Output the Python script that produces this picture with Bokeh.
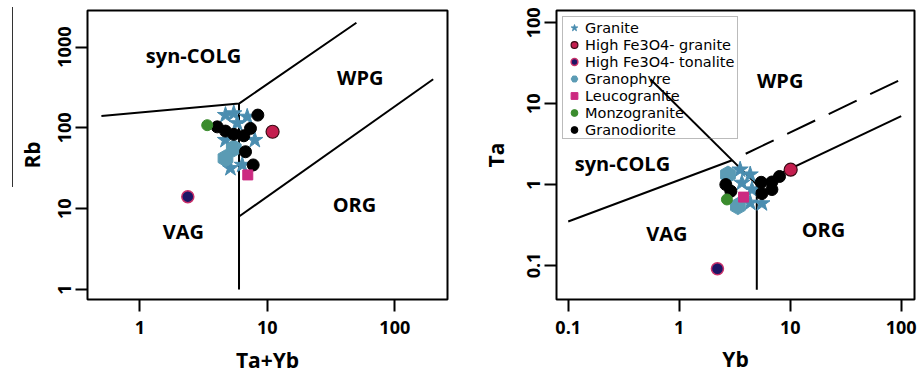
import math
from bokeh.plotting import figure
from bokeh.models import FixedTicker, Legend, LegendItem, Div
from bokeh.layouts import row
from bokeh.embed import file_html
from bokeh.resources import INLINE
from bokeh.core.properties import value

# ---------------- data: left diagram (Rb vs Ta+Yb) ----------------
L_xticks = [1, 10, 100]
L_xtick_labels = ["1", "10", "100"]
L_yticks = [1, 10, 100, 1000]
L_ytick_labels = ["1", "10", "100", "1000"]

L_granite_x = [4.70, 5.46, 6.96, 5.81, 4.70, 7.98, 6.36, 5.14]
L_granite_y = [144, 151, 137, 114, 70.7, 70.7, 34.8, 31.7]
L_granodiorite_x = [4.05, 4.70, 5.46, 6.54, 7.38, 8.43, 6.75, 7.75]
L_granodiorite_y = [103, 91.3, 83.2, 79.9, 98.6, 144, 50.7, 34.8]
L_granophyre_x = [5.46, 4.70]
L_granophyre_y = [55.9, 42.1]
L_leuco_x = [7.03]
L_leuco_y = [26.2]
L_monzo_x = [3.38]
L_monzo_y = [108]
L_hfgran_x = [11.0]
L_hfgran_y = [89.6]
L_hfton_x = [2.38]
L_hfton_y = [14.1]

# field boundaries (Pearce et al. 1984)
L_b1_x = [0.5, 6, 50]
L_b1_y = [140, 200, 2000]
L_b2_x = [6, 6]
L_b2_y = [200, 1]
L_b3_x = [6, 200]
L_b3_y = [8, 400]

L_fields = ["syn-COLG", "WPG", "ORG", "VAG"]
L_field_x = [2.64, 53.6, 48.3, 2.20]
L_field_y = [791, 423, 11.2, 5.19]

# ---------------- data: right diagram (Ta vs Yb) ----------------
R_xticks = [0.1, 1, 10, 100]
R_xtick_labels = ["0.1", "1", "10", "100"]
R_yticks = [0.1, 1, 10, 100]
R_ytick_labels = ["0.1", "1", "10", "100"]

R_granite_x = [3.54, 4.36, 3.67, 4.52, 4.36, 5.56]
R_granite_y = [1.53, 1.33, 1.05, 0.869, 0.596, 0.585]
R_granodiorite_x = [2.63, 2.92, 5.48, 5.56, 6.84, 6.84, 8.01]
R_granodiorite_y = [1.0, 0.828, 1.067, 0.776, 1.076, 0.869, 1.26]
R_granophyre_x = [2.75, 3.38]
R_granophyre_y = [1.33, 0.542]
R_leuco_x = [3.80]
R_leuco_y = [0.70]
R_monzo_x = [2.69]
R_monzo_y = [0.655]
R_hfgran_x = [10.1]
R_hfgran_y = [1.53]
R_hfton_x = [2.21]
R_hfton_y = [0.091]

R_b1_x = [0.1, 3]
R_b1_y = [0.35, 2]
R_b2_x = [0.55, 5]
R_b2_y = [20, 1]
R_b3_x = [5, 5]
R_b3_y = [1, 0.05]
R_b4_x = [5, 100]
R_b4_y = [1, 7]
R_dash_x = [3, 100]
R_dash_y = [2, 20]

R_fields = ["WPG", "syn-COLG", "VAG", "ORG"]
R_field_x = [8.13, 0.308, 0.775, 19.95]
R_field_y = [19.4, 1.82, 0.246, 0.276]

legend_names = ["Granite", "High Fe3O4- granite", "High Fe3O4- tonalite",
                "Granophyre", "Leucogranite", "Monzogranite", "Granodiorite"]

FONT = "Open Sans"
LEGEND_FONT = "DejaVu Sans"
STAR = "#4a8db0"
HEXC = "#5b9bb4"
RED = "#c41e4f"
NAVY = "#1c1566"
PINK = "#cc2a80"
GREEN = "#3b8c2e"


def make_fig(xr, yr, w, h, borders, xt, xl, yt, yl, xlabel, ylabel, xstand, ystand):
    p = figure(width=w, height=h, x_axis_type="log", y_axis_type="log",
               x_range=xr, y_range=yr, output_backend="svg", toolbar_location=None,
               min_border_left=borders[0], min_border_right=borders[1],
               min_border_top=borders[2], min_border_bottom=borders[3])
    p.grid.visible = False
    p.outline_line_color = "black"
    p.outline_line_width = 2
    p.outline_line_alpha = 1
    for ax, ticks, labs in ((p.xaxis[0], xt, xl), (p.yaxis[0], yt, yl)):
        ax.ticker = FixedTicker(ticks=ticks)
        ax.major_label_overrides = {t: s for t, s in zip(ticks, labs)}
        ax.axis_line_color = None
        ax.major_tick_in = 0
        ax.major_tick_out = 12
        ax.major_tick_line_width = 2
        ax.major_tick_line_color = "black"
        ax.minor_tick_line_color = None
        ax.major_label_text_font = FONT
        ax.major_label_text_font_style = "bold"
        ax.major_label_text_font_size = "18px"
        ax.major_label_text_color = "black"
        ax.axis_label_text_font = FONT
        ax.axis_label_text_font_style = "bold"
        ax.axis_label_text_font_size = "21px"
        ax.axis_label_text_color = "black"
    p.xaxis[0].axis_label = xlabel
    p.yaxis[0].axis_label = ylabel
    p.xaxis[0].major_label_standoff = 9
    p.xaxis[0].axis_label_standoff = xstand
    p.yaxis[0].major_label_orientation = "vertical"
    p.yaxis[0].major_label_standoff = 4
    p.yaxis[0].axis_label_standoff = ystand
    return p


def add_points(p, gx, gy, hx, hy, dx, dy, lx, ly, mx, my, rx, ry, nx, ny):
    rs = {}
    rs["Granite"] = p.scatter(gx, gy, marker="star", size=17, fill_color=STAR, line_color=STAR)
    rs["Granophyre"] = p.scatter(hx, hy, marker="hex", size=17, angle=math.pi / 6,
                                 fill_color=HEXC, line_color=HEXC)
    rs["Granodiorite"] = p.scatter(dx, dy, marker="circle", size=12, fill_color="black", line_color="black")
    rs["Leucogranite"] = p.scatter(lx, ly, marker="square", size=10, fill_color=PINK, line_color=PINK)
    rs["Monzogranite"] = p.scatter(mx, my, marker="circle", size=11, fill_color=GREEN, line_color=GREEN)
    rs["High Fe3O4- granite"] = p.scatter(rx, ry, marker="circle", size=13, fill_color=RED,
                                          line_color="#3a0a14", line_width=1.2)
    rs["High Fe3O4- tonalite"] = p.scatter(nx, ny, marker="circle", size=12, fill_color=NAVY,
                                           line_color="#c8306a", line_width=1.5)
    return rs


def add_fields(p, xs, ys, names):
    p.text(xs, ys, text=names, text_font=value(FONT), text_font_style="bold",
           text_font_size="20px", text_align="center", text_baseline="middle", text_color="black")


# ---------------- left figure ----------------
pL = make_fig((0.389, 259), (0.753, 2835), 447, 376, (74, 13, 10, 76),
              L_xticks, L_xtick_labels, L_yticks, L_ytick_labels, "Ta+Yb", "Rb", 9, 10)
for bx, by in ((L_b1_x, L_b1_y), (L_b2_x, L_b2_y), (L_b3_x, L_b3_y)):
    pL.line(bx, by, line_color="black", line_width=2)
add_fields(pL, L_field_x, L_field_y, L_fields)
add_points(pL, L_granite_x, L_granite_y, L_granophyre_x, L_granophyre_y,
           L_granodiorite_x, L_granodiorite_y, L_leuco_x, L_leuco_y,
           L_monzo_x, L_monzo_y, L_hfgran_x, L_hfgran_y, L_hfton_x, L_hfton_y)

# ---------------- right figure ----------------
pR = make_fig((0.0784, 131.8), (0.038, 141.8), 457, 376, (96, 3, 9, 75),
              R_xticks, R_xtick_labels, R_yticks, R_ytick_labels, "Yb", "Ta", 8, 15)
for bx, by in ((R_b1_x, R_b1_y), (R_b2_x, R_b2_y), (R_b3_x, R_b3_y), (R_b4_x, R_b4_y)):
    pR.line(bx, by, line_color="black", line_width=2)
pR.line(R_dash_x, R_dash_y, line_color="black", line_width=2, line_dash="31 15", line_dash_offset=31)
add_fields(pR, R_field_x, R_field_y, R_fields)
rs = add_points(pR, R_granite_x, R_granite_y, R_granophyre_x, R_granophyre_y,
                R_granodiorite_x, R_granodiorite_y, R_leuco_x, R_leuco_y,
                R_monzo_x, R_monzo_y, R_hfgran_x, R_hfgran_y, R_hfton_x, R_hfton_y)

# transparent box: the syn-COLG/WPG boundary shows through it, as in the original
legend = Legend(items=[LegendItem(label=n, renderers=[rs[n]]) for n in legend_names],
                location="top_left", margin=6,
                padding=dict(left=0, right=2, top=2, bottom=0), spacing=0,
                glyph_width=22, glyph_height=17, label_standoff=0, label_width=150,
                label_height=17, label_text_font=LEGEND_FONT, label_text_font_size="14.5px",
                label_text_color="black", border_line_color="#777777", border_line_width=1.5,
                background_fill_alpha=0)
pR.add_layout(legend)

line_div = Div(text="", width=13, height=180, margin=(7, 0, 0, 0),
               styles={"border-right": "1px solid #333", "box-sizing": "border-box"})

layout = row(line_div, pL, pR)
open("out.html", "w").write(file_html(layout, INLINE))
